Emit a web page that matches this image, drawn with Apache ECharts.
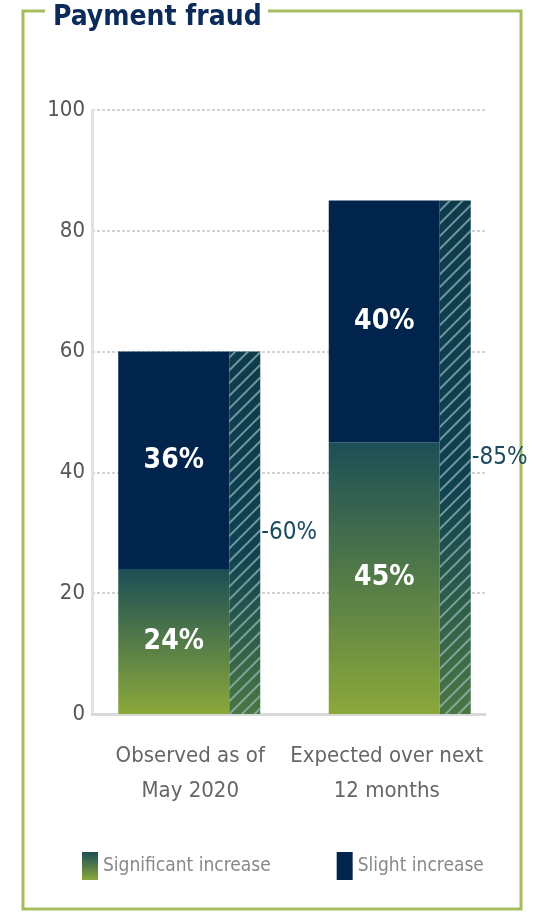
<!DOCTYPE html>
<html>
<head>
<meta charset="utf-8">
<script src="https://cdn.jsdelivr.net/npm/echarts@6/dist/echarts.min.js"></script>
<style>
  html, body { margin: 0; padding: 0; background: #fff; }
  #main { width: 537px; height: 912px; }
</style>
</head>
<body>
<div id="main"></div>
<script>
const categories = ['Observed as of\nMay 2020', 'Expected over next\n12 months'];
const significant = [24, 45];
const slight = [36, 40];
const totals = [60, 85];

const narrow = "'Liberation Sans Narrow', 'DejaVu Sans Condensed', 'Liberation Sans', sans-serif";

let chart = echarts.init(document.getElementById('main'));

let greenGrad = new echarts.graphic.LinearGradient(0, 0, 0, 1, [
  {offset: 0, color: '#1c4e56'},
  {offset: 1, color: '#8ba83a'}
]);
let hatchGrad = new echarts.graphic.LinearGradient(0, 0, 0, 1, [
  {offset: 0, color: '#0e3b4c'},
  {offset: 0.55, color: '#0f4150'},
  {offset: 1, color: '#4a7742'}
]);

let frameColor = '#a5bd5c';

let option = {
  animation: false,
  grid: [
    {left: 84, width: 421, top: 110, bottom: 198},
    {left: 92, width: 393, top: 110, bottom: 198}
  ],
  xAxis: [
    {type: 'category', gridIndex: 0, data: categories, show: false},
    {
      type: 'category', gridIndex: 1, data: categories,
      axisLine: {lineStyle: {color: '#d9d9d9', width: 3}},
      axisTick: {show: false},
      axisLabel: {interval: 0, margin: 25, color: '#666', fontSize: 22, lineHeight: 35, fontFamily: narrow}
    }
  ],
  yAxis: [
    {type: 'value', gridIndex: 0, min: 0, max: 100, show: false},
    {
      type: 'value', gridIndex: 1, min: 0, max: 100, interval: 20,
      axisLine: {show: true, lineStyle: {color: '#e2e2e2', width: 3}},
      axisTick: {show: false},
      axisLabel: {margin: 7, color: '#555', fontSize: 22, fontFamily: narrow},
      splitLine: {lineStyle: {color: '#d3d3d3', width: 2, type: [3, 2]}}
    }
  ],
  legend: {
    left: 77, top: 847,
    data: ['Significant increase', 'Slight increase'],
    itemWidth: 16, itemHeight: 28, itemGap: 66,
    icon: 'rect',
    textStyle: {color: '#888', fontSize: 19, fontFamily: narrow}
  },
  series: [
    {
      name: 'Significant increase', type: 'bar', stack: 'main', barWidth: 111,
      data: significant,
      itemStyle: {color: greenGrad},
      label: {show: true, position: 'inside', formatter: '{c}%', color: '#fff', fontSize: 28, fontWeight: 'bold', fontFamily: narrow}
    },
    {
      name: 'Slight increase', type: 'bar', stack: 'main', barWidth: 111,
      data: slight,
      itemStyle: {color: '#00244b'},
      label: {show: true, position: 'inside', formatter: '{c}%', color: '#fff', fontSize: 28, fontWeight: 'bold', fontFamily: narrow}
    },
    {
      name: 'Total', type: 'bar', stack: 'total', barWidth: 31, barGap: '0%',
      data: totals,
      itemStyle: {
        color: hatchGrad,
        decal: {
          symbol: 'rect', symbolSize: 1, color: 'rgba(165,195,200,0.65)',
          dashArrayX: [1, 0], dashArrayY: [2, 7], rotation: -Math.PI / 4
        }
      },
      label: {show: true, position: 'right', distance: 1, formatter: '-{c}%', color: '#1a4a5c', fontSize: 24, fontFamily: narrow}
    }
  ],
  graphic: [
    {type: 'polyline', shape: {points: [[45, 11], [23, 11], [23, 909], [521, 909], [521, 11], [268, 11]]},
     style: {stroke: frameColor, lineWidth: 3, fill: null}},
    {type: 'text', left: 53, top: 4,
     style: {text: 'Payment fraud', fill: '#0b2b5b', fontSize: 28, fontWeight: 'bold', fontFamily: narrow}}
  ]
};

chart.setOption(option);
</script>
</body>
</html>
